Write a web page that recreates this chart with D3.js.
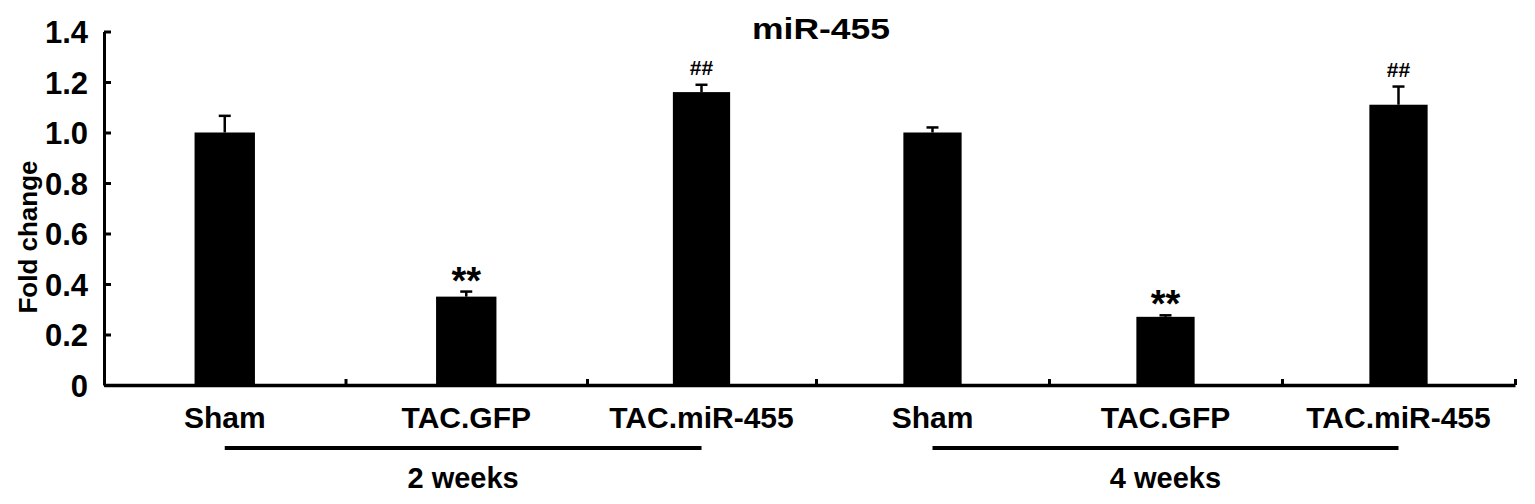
<!DOCTYPE html>
<html>
<head>
<meta charset="utf-8">
<script src="https://cdn.jsdelivr.net/npm/d3@7/dist/d3.min.js"></script>
<style>
  html, body { margin: 0; padding: 0; background: #fff; }
  svg { display: block; }
  text { font-family: "Liberation Sans", Arial, sans-serif; font-weight: bold; fill: #000; }
</style>
</head>
<body>
<svg id="chart" width="1535" height="504"></svg>
<script>
// ---- data ----
const categories = ["Sham", "TAC.GFP", "TAC.miR-455", "Sham", "TAC.GFP", "TAC.miR-455"];
const values = [1.00, 0.35, 1.16, 1.00, 0.27, 1.11];
const errors = [0.066, 0.020, 0.029, 0.020, 0.006, 0.072];
const marks = ["", "**", "##", "", "**", "##"];
const groups = ["2 weeks", "4 weeks"];
const groupMembers = [[0, 1, 2], [3, 4, 5]];
const yTicks = [0, 0.2, 0.4, 0.6, 0.8, 1.0, 1.2, 1.4];
const title = "miR-455";
const yTitle = "Fold change";

// ---- scales ----
const svg = d3.select("#chart");
// band boundaries (index space) -> pixels; the original figure has slightly
// wider bands on the left half than on the right half
const x = d3.scaleLinear().domain([0, 2, 3, 6]).range([104, 587, 816, 1515]);
const y = d3.scaleLinear().domain([0, 1.4]).range([385, 31.5]);
const cx = i => x(i + 0.5);
const bw = i => (x(i + 1) - x(i)) * 0.25;

// ---- bars ----
svg.append("g").selectAll("rect").data(values).join("rect")
  .attr("x", (d, i) => cx(i) - bw(i) / 2)
  .attr("width", (d, i) => bw(i))
  .attr("y", d => y(d))
  .attr("height", d => y(0) - y(d))
  .attr("fill", "#000");

// ---- error bars (upper only) ----
const eb = svg.append("g").attr("stroke", "#000").attr("stroke-width", 2.5);
values.forEach((v, i) => {
  eb.append("line").attr("x1", cx(i)).attr("x2", cx(i)).attr("y1", y(v)).attr("y2", y(v + errors[i]));
  eb.append("line").attr("x1", cx(i) - 6).attr("x2", cx(i) + 6).attr("y1", y(v + errors[i])).attr("y2", y(v + errors[i]));
});

// ---- significance marks ----
svg.append("g").selectAll("text").data(marks).join("text")
  .attr("x", (d, i) => cx(i))
  .attr("y", (d, i) => d === "**" ? y(values[i] + errors[i]) + 2 : y(values[i] + errors[i]) - 10)
  .attr("text-anchor", "middle")
  .style("font-size", d => d === "**" ? "38px" : "21px")
  .text(d => d);

// ---- y axis ----
const yAxis = svg.append("g").attr("transform", `translate(${x(0)},0)`)
  .call(d3.axisLeft(y).tickValues(yTicks).tickSizeInner(-7).tickSizeOuter(0).tickPadding(16)
    .tickFormat(d => d === 0 ? "0" : d3.format(".1f")(d)));
yAxis.select(".domain").attr("stroke-width", 3);
yAxis.selectAll(".tick line").attr("stroke-width", 3);
yAxis.selectAll(".tick text").style("font-size", "31px").attr("dy", "0.36em");

// ---- x axis ----
const xAxis = svg.append("g").attr("transform", `translate(0,${y(0)})`)
  .call(d3.axisBottom(x).tickValues(d3.range(1, categories.length + 1)).tickSizeInner(-6).tickSizeOuter(0).tickFormat(""));
xAxis.select(".domain").attr("stroke-width", 3.5);
xAxis.selectAll(".tick line").attr("stroke-width", 3);

// ---- category labels ----
svg.append("g").selectAll("text").data(categories).join("text")
  .attr("x", (d, i) => cx(i))
  .attr("y", 428)
  .attr("text-anchor", "middle")
  .style("font-size", "30px")
  .text(d => d);

// ---- group lines and labels ----
groups.forEach((g, k) => {
  const m = groupMembers[k];
  const x1 = cx(m[0]), x2 = cx(m[m.length - 1]);
  svg.append("line").attr("x1", x1).attr("x2", x2).attr("y1", 448).attr("y2", 448)
    .attr("stroke", "#000").attr("stroke-width", 4);
  svg.append("text").attr("x", (x1 + x2) / 2).attr("y", 488)
    .attr("text-anchor", "middle").style("font-size", "29px").text(g);
});

// ---- titles ----
svg.append("text").attr("x", 821).attr("y", 39).attr("text-anchor", "middle")
  .style("font-size", "29px").attr("textLength", 138).attr("lengthAdjust", "spacingAndGlyphs")
  .text(title);

svg.append("text").attr("transform", "translate(37,237) rotate(-90)")
  .attr("text-anchor", "middle").style("font-size", "26px").text(yTitle);
</script>
</body>
</html>
